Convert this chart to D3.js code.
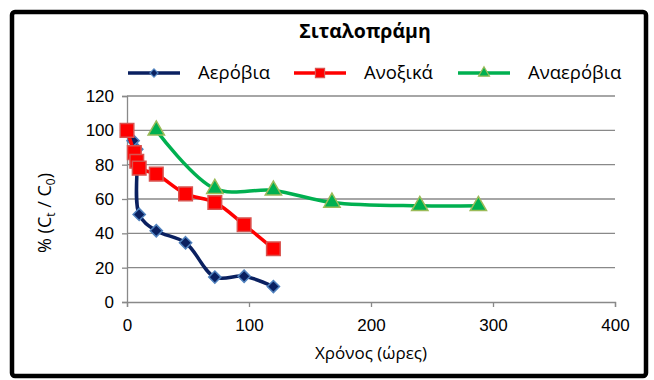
<!DOCTYPE html>
<html>
<head>
<meta charset="utf-8">
<script src="https://cdn.jsdelivr.net/npm/d3@7"></script>
<style>
  body { margin: 0; background: #fff; }
  svg { display: block; font-family: "Open Sans", "Noto Sans", sans-serif; }
</style>
</head>
<body>
<div id="chart"></div>
<script>
// values
const seriesNames = ["Αερόβια", "Ανοξικά", "Αναερόβια"]
const aerobicHours = [0, 5, 8, 10, 24, 48, 72, 96, 120]
const aerobicValues = [100, 94, 89, 51, 41.5, 34.5, 14.5, 15, 9]
const anoxicHours = [0, 6, 8, 10, 24, 48, 72, 96, 120]
const anoxicValues = [100, 87, 82, 78, 74.5, 63, 58, 45, 31]
const anaerobicHours = [24, 72, 120, 168, 240, 288]
const anaerobicValues = [100, 66, 65, 58, 56, 56]
const xTicks = [0, 100, 200, 300, 400]
const yTicks = [0, 20, 40, 60, 80, 100, 120]

const width = 654
const height = 380

const series = [
    { name: seriesNames[0], xs: aerobicHours, ys: aerobicValues, line: "#0a2060", fill: "#0a2060", stroke: "#4f81bd", shape: d3.symbolDiamond2, size: 95 },
    { name: seriesNames[1], xs: anoxicHours, ys: anoxicValues, line: "#ff0000", fill: "#ff0000", stroke: "#d9534f", shape: d3.symbolSquare, size: 185 },
    { name: seriesNames[2], xs: anaerobicHours, ys: anaerobicValues, line: "#00b050", fill: "#00b050", stroke: "#9bbb59", shape: d3.symbolTriangle, size: 115 }
]

const svg = d3.select("#chart").append("svg")
    .attr("width", width)
    .attr("height", height)

// outer frame
svg.append("rect")
    .attr("x", 12).attr("y", 12)
    .attr("width", 634).attr("height", 364)
    .attr("rx", 3)
    .attr("fill", "#fff")
    .attr("stroke", "#000")
    .attr("stroke-width", 4.5)

const x = d3.scaleLinear().domain([0, 400]).range([127, 615])
const y = d3.scaleLinear().domain([0, 120]).range([302, 96])

// horizontal grid
svg.append("g")
    .selectAll("line")
    .data(yTicks.filter(d => d > 0))
    .join("line")
    .attr("x1", x(0)).attr("x2", x(400))
    .attr("y1", d => y(d)).attr("y2", d => y(d))
    .attr("stroke", "#898989")
    .attr("stroke-width", 1.3)

const yAxis = svg.append("g")
    .attr("transform", `translate(${x(0)},0)`)
    .call(d3.axisLeft(y).tickValues(yTicks).tickSize(5).tickPadding(8))
const xAxis = svg.append("g")
    .attr("transform", `translate(0,${y(0)})`)
    .call(d3.axisBottom(x).tickValues(xTicks).tickSize(5).tickPadding(12))

for (const ax of [xAxis, yAxis]) {
    ax.select(".domain").attr("stroke", "#898989").attr("stroke-width", 1.3)
    ax.selectAll(".tick line").attr("stroke", "#898989").attr("stroke-width", 1.3)
    ax.selectAll(".tick text")
        .attr("fill", "#000")
        .style("font-size", "17px")
        .style("font-family", "inherit")
}

const line = d3.line()
    .x(d => x(d[0]))
    .y(d => y(d[1]))
    .curve(d3.curveCatmullRom.alpha(0.5))

series.forEach(s => {
    const pts = s.xs.map((v, i) => [v, s.ys[i]])
    svg.append("path")
        .datum(pts)
        .attr("fill", "none")
        .attr("stroke", s.line)
        .attr("stroke-width", 3.5)
        .attr("d", line)
    svg.append("g")
        .selectAll("path")
        .data(pts)
        .join("path")
        .attr("transform", d => `translate(${x(d[0])},${y(d[1])})`)
        .attr("d", d3.symbol(s.shape, s.size))
        .attr("fill", s.fill)
        .attr("stroke", s.stroke)
        .attr("stroke-width", 1.5)
})

// legend
const legendX = [128, 294, 458]
const legend = svg.append("g")
    .selectAll("g")
    .data(series)
    .join("g")
    .attr("transform", (d, i) => `translate(${legendX[i]},73)`)
legend.append("line")
    .attr("x1", 0).attr("x2", 52)
    .attr("stroke", d => d.line)
    .attr("stroke-width", 3.5)
legend.append("path")
    .attr("transform", "translate(26,0)")
    .attr("d", d => d3.symbol(d.shape, d.size * 0.45)())
    .attr("fill", d => d.fill)
    .attr("stroke", d => d.stroke)
    .attr("stroke-width", 1.2)
legend.append("text")
    .attr("x", 70)
    .attr("dy", "0.35em")
    .style("font-size", "18.5px")
    .text(d => d.name)

// title
svg.append("text")
    .attr("x", 365).attr("y", 38)
    .attr("text-anchor", "middle")
    .style("font-size", "19.5px")
    .style("font-weight", "bold")
    .text("Σιταλοπράμη")

// axis titles
svg.append("text")
    .attr("x", x(200)).attr("y", 359)
    .attr("text-anchor", "middle")
    .style("font-size", "17px")
    .text("Χρόνος (ώρες)")

const yt = svg.append("text")
    .attr("transform", `translate(51,213) rotate(-90)`)
    .attr("text-anchor", "middle")
    .style("font-size", "18px")
yt.append("tspan").text("% (C")
yt.append("tspan").attr("dy", 4).style("font-size", "12px").text("t")
yt.append("tspan").attr("dy", -4).text(" / C")
yt.append("tspan").attr("dy", 4).style("font-size", "12px").text("0")
yt.append("tspan").attr("dy", -4).text(")")
</script>
</body>
</html>
